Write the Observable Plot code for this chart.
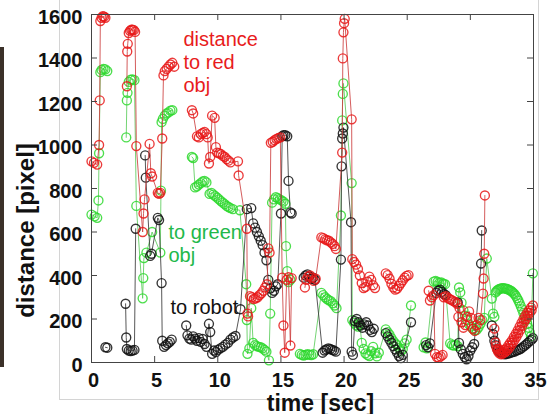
<!DOCTYPE html>
<html><head><meta charset="utf-8">
<script src="https://cdn.jsdelivr.net/npm/d3@7"></script>
<script src="https://cdn.jsdelivr.net/npm/@observablehq/plot@0.6"></script>
<style>
body{margin:0;background:#fff;}
#wrap{position:relative;width:547px;height:414px;overflow:hidden;background:#fff;}
.deco{position:absolute;}
#chart{position:absolute;left:0;top:0;}
</style></head><body>
<div id="wrap">
<div class="deco" style="left:0;top:47px;width:4px;height:320px;background:#3b3129"></div>
<div class="deco" style="left:59px;top:0;width:1px;height:400px;background:#d4d4d4"></div>
<div class="deco" style="left:59px;top:399px;width:480px;height:1px;background:#d4d4d4"></div>
<div class="deco" style="left:538px;top:0;width:1px;height:399px;background:#d4d4d4"></div>
<div id="chart"></div>
</div>
<script>
// time [sec], distance [pixel]
const red = [
[0.0,925],[0.2,918],[0.45,910],[0.6,1000],[0.65,1205],[0.7,1570],[0.8,1585],[0.9,1592],[1.0,1590],[1.1,1585],
[2.8,1270],[2.83,1430],[2.87,1465],[2.95,1515],[3.05,1525],[3.15,1530],[3.25,1530],[3.35,1528],[3.45,1520],[3.55,995],
[4.05,600],[4.12,685],[4.2,750],[4.6,1005],[4.7,870],[4.8,855],[5.25,780],[5.35,775],[5.45,780],[5.6,1030],[5.7,1320],[5.8,1340],[5.95,1350],[6.1,1360],[6.25,1370],[6.4,1378],[6.55,1360],
[7.95,1160],[8.05,1145],[8.35,1040],[8.5,1035],[8.65,1050],[8.8,1055],[8.95,1060],[9.1,1050],[9.2,1035],[9.3,915],[9.4,945],[9.55,1135],[9.75,1125],[9.85,990],[9.95,965],[10.1,962],[10.25,958],[10.4,950],[10.55,945],[10.7,935],[10.85,928],[11.0,920],[11.6,925],[11.65,860],
[12.3,615],[12.35,225],[12.4,212],[12.55,305],[12.7,300],[12.85,292],[13.0,295],[13.15,300],[13.3,310],[13.45,318],[13.6,330],[13.75,345],[13.9,360],[14.0,525],[14.1,505],[14.2,1010],[14.35,1015],[14.5,1022],[14.65,1028],[14.8,1032],[14.95,1035],[15.1,390],[15.2,170],[15.3,45],[15.45,380],[15.6,392],[15.75,78],[15.85,388],
[16.9,345],[17.0,380],[17.15,395],[17.3,400],[17.45,390],[17.6,375],[17.75,385],
[18.2,575],[18.35,572],[18.5,566],[18.65,562],[18.8,560],[18.95,552],[19.1,545],[19.25,535],[19.35,522],
[19.85,965],[19.9,1398],[19.95,1518],[20.0,1560],[20.05,1580],[20.6,1118],[20.65,475],[20.8,462],[20.95,450],[21.1,430],[21.25,400],[21.4,365],[21.55,342],[21.7,348],[21.85,372],[22.0,395],[22.15,380],[22.3,355],[22.45,342],
[23.3,410],[23.45,402],[23.6,385],[23.75,362],[23.9,345],[24.05,335],[24.2,340],[24.35,352],[24.5,365],[24.65,378],[24.8,390],[24.95,398],[25.1,402],
[26.7,330],[26.8,285],[26.95,300],[27.1,310],[27.2,40],[27.35,25],[27.5,22],[27.65,28],[27.8,35],[27.9,300],[28.05,305],[28.2,298],[28.35,292],[28.5,288],[28.65,282],[28.8,278],[28.95,270],[29.05,210],[29.15,250],[29.3,185],[29.45,160],[29.6,172],[29.75,210],[29.9,235],[30.05,205],[30.2,155],[30.35,145],[30.5,172],[30.65,205],[30.8,195],[31.0,317],[31.05,386],[31.1,500],[31.15,768],
[31.9,156],[32.0,92],[32.05,75],[32.1,62],[32.2,50],[32.25,62],[32.3,42],[32.4,52],[32.45,38],[32.55,50],[32.6,42],[32.7,58],[32.75,48],[32.85,65],[32.9,55],[33.0,78],[33.05,65],[33.15,90],[33.2,78],[33.3,102],[33.35,90],[33.45,118],[33.5,104],[33.6,132],[33.65,118],[33.75,148],[33.8,134],[33.9,165],[33.95,150],[34.05,182],[34.1,168],[34.2,198],[34.25,185],[34.35,214],[34.4,200],[34.5,228],[34.55,215],[34.65,240],[34.7,228],[34.8,252],[34.85,240],[34.95,262]
];
const green = [
[0.0,680],[0.25,672],[0.45,665],[0.55,745],[0.6,962],[0.7,1335],[0.8,1345],[0.95,1350],[1.1,1348],[1.25,1340],
[2.75,1035],[2.8,1205],[2.85,1240],[2.95,1290],[3.1,1300],[3.25,1302],[3.4,1298],[3.55,720],
[4.05,295],[4.1,388],[4.15,480],[4.35,505],[4.8,600],
[5.45,505],[5.5,790],[5.55,1105],[5.65,1120],[5.8,1135],[5.95,1145],[6.1,1150],[6.25,1158],[6.4,1160],
[7.95,945],[8.05,940],[8.2,805],[8.35,810],[8.5,818],[8.65,825],[8.8,832],[8.95,835],[9.1,828],[9.35,775],[9.5,780],[9.65,772],[9.8,765],[9.95,758],[10.1,750],[10.25,742],[10.4,735],[10.55,728],[10.7,720],[10.85,715],[11.0,710],[11.2,705],[11.75,700],
[12.25,360],[12.3,195],[12.35,40],[12.5,65],[12.65,250],[12.8,90],[12.95,80],[13.1,75],[13.25,72],[13.4,70],[13.55,65],[13.7,58],[13.85,50],[14.05,10],[14.15,225],[14.3,735],[14.45,750],[14.6,760],[14.75,755],[14.9,750],[15.05,745],[15.2,740],[15.35,730],[15.4,535],[15.5,420],[15.6,370],[15.75,380],
[16.5,40],[16.65,35],[16.8,32],[16.95,35],[17.1,38],[17.25,36],[17.4,34],[17.55,38],
[18.2,320],[18.35,310],[18.5,300],[18.65,292],[18.8,286],[18.95,282],[19.1,272],[19.25,262],[19.4,250],
[19.75,676],[19.85,1113],[19.9,1235],[19.95,1283],[20.6,825],[20.65,195],[20.8,182],[20.95,172],[21.1,165],[21.25,178],[21.4,90],[21.55,62],[21.7,42],[21.85,35],[22.0,30],[22.15,52],[22.3,72],[22.45,42],[22.6,28],[22.75,45],
[23.3,152],[23.45,140],[23.6,128],[23.75,112],[23.9,98],[24.05,88],[24.2,80],[24.35,66],[24.5,52],[24.65,62],[24.8,88],[24.95,105],[25.3,262],
[26.3,70],[26.45,92],[26.55,65],[27.1,372],[27.25,375],[27.4,370],[27.55,366],[27.7,368],[27.85,362],[28.0,360],[28.4,88],[28.55,80],[28.7,78],[28.85,82],[29.0,75],[29.1,345],[29.2,322],[29.3,275],[29.45,240],[29.6,215],[29.75,195],[29.9,175],[30.05,165],[30.2,155],[30.35,148],[30.5,150],[30.65,162],[30.8,178],[30.95,195],[31.1,205],[31.3,478],[31.7,294],[31.8,225],[31.9,210],
[32.0,322],[32.1,330],[32.2,335],[32.3,338],[32.4,340],[32.5,342],[32.6,342],[32.7,341],[32.8,340],[32.9,338],[33.0,336],[33.1,333],[33.2,330],[33.3,326],[33.4,320],[33.5,314],[33.6,306],[33.7,296],[33.8,285],[33.9,272],[34.0,258],[34.1,244],[34.2,228],[34.3,212],[34.4,196],[34.5,178],[34.6,160],[34.7,140],[34.8,120],[34.95,410]
];
const black = [
[1.1,70],[1.25,68],
[2.7,270],[2.75,115],[2.8,62],[2.95,55],[3.1,52],[3.25,55],[3.4,58],[3.5,615],
[4.25,952],[4.3,850],[4.65,490],[4.75,500],[5.25,665],[5.35,655],[5.55,365],[5.6,100],[5.75,72],[5.9,80],[6.05,88],[6.2,95],[6.35,105],
[7.5,170],[7.6,125],[7.75,110],[7.9,105],[8.05,120],[8.2,110],[8.35,100],[8.5,112],[8.65,95],[8.8,108],[8.95,85],[9.1,72],[9.3,178],[9.4,140],[9.55,40],[9.7,55],[9.85,48],[10.0,58],[10.2,65],[10.4,72],[10.6,82],[10.8,90],[11.0,105],[11.2,115],[11.4,122],
[11.8,245],[12.3,705],[12.65,710],[12.8,640],[12.95,620],[13.1,600],[13.25,580],[13.4,560],[13.55,540],[13.7,505],[13.85,470],[14.0,380],[14.15,340],[14.3,320],[14.45,330],[14.6,350],[14.75,360],[15.0,685],[15.1,1040],[15.2,1045],[15.35,1045],[15.5,1040],[15.6,835],[15.75,690],[15.85,685],
[16.8,390],[16.95,400],[17.1,405],[17.25,395],[17.4,385],[17.55,390],[17.7,380],
[18.3,45],[18.45,55],[18.6,60],[18.75,65],[18.9,62],[19.05,58],[19.2,55],[19.35,50],
[19.75,473],[19.8,902],[19.85,1030],[19.9,1053],[19.95,1080],[20.55,645],[20.6,50],[20.7,35],[20.85,190],[21.0,200],[21.15,185],[21.3,170],[21.45,160],[21.6,175],[21.75,185],[21.9,170],[22.05,150],[22.2,140],[22.35,155],
[23.3,135],[23.45,120],[23.6,105],[23.75,90],[23.9,75],[24.05,60],[24.2,45],[24.35,30],[24.5,20],[24.65,35],[25.3,185],
[26.5,80],[26.65,70],[26.8,88],[27.3,320],[27.45,330],[27.6,335],[27.75,325],[27.9,315],[28.05,310],
[29.0,276],[29.1,90],[29.25,60],[29.4,40],[29.55,25],[29.7,15],[29.85,30],[30.0,55],[30.15,70],[30.3,85],[30.85,455],[30.9,607],
[31.7,170],[31.8,130],[31.9,100],[32.0,80],[32.15,60],[32.3,50],[32.45,45],[32.6,40],[32.75,38],[32.9,40],[33.05,42],[33.2,45],[33.35,48],[33.5,50],[33.65,55],[33.8,58],[33.95,62],[34.1,68],[34.25,75],[34.4,82],[34.55,90],[34.7,98],[34.85,105],[34.95,112]
];
const xTicks = [0,5,10,15,20,25,30,35];
const yTicks = [0,200,400,600,800,1000,1200,1400,1600];
const xTitle = "time [sec]";
const yTitle = "distance [pixel]";
const notes = ["distance\nto red\nobj", "to green\nobj", "to robot"];

function rows(arr) {
  let seg = 0;
  return arr.map((d, i) => {
    if (i > 0 && d[0] - arr[i - 1][0] > 0.7) seg++;
    return {t: d[0], v: d[1], s: seg};
  });
}
const series = [
  {data: rows(green), dot: "#2ed82e", line: "#5ccc5c"},
  {data: rows(black), dot: "#111111", line: "#3a3a3a"},
  {data: rows(red), dot: "#e81818", line: "#cc4040"}
];
const marks = [];
for (const s of series) {
  marks.push(Plot.line(s.data, {x: "t", y: "v", z: "s", stroke: s.line, strokeWidth: 1, strokeOpacity: 0.85}));
  marks.push(Plot.dot(s.data, {x: "t", y: "v", r: 4.5, stroke: s.dot, strokeWidth: 1.35, fill: "none", strokeOpacity: 0.85}));
}
marks.push(Plot.frame({stroke: "#444"}));
marks.push(Plot.tickX(xTicks, {x: d => d, insetTop: 342, stroke: "#444"}));
marks.push(Plot.tickX(xTicks, {x: d => d, insetBottom: 342, stroke: "#444"}));
marks.push(Plot.tickY(yTicks, {y: d => d, insetRight: 436, stroke: "#444"}));
marks.push(Plot.tickY(yTicks, {y: d => d, insetLeft: 436, stroke: "#444"}));
const hasAxis = typeof Plot.axisX === "function";
if (hasAxis) {
  marks.push(Plot.axisX({ticks: xTicks, tickSize: 0, tickPadding: 10, dx: 2, fontSize: 20, fontWeight: "bold", label: null, tickFormat: d => `${d}`, fill: "#111"}));
  marks.push(Plot.axisY({ticks: yTicks, tickSize: 0, tickPadding: 9, dy: 3, fontSize: 20, fontWeight: "bold", label: null, tickFormat: d => `${d}`, fill: "#111"}));
}
marks.push(Plot.text([yTitle], {frameAnchor: "left", text: d => d, rotate: -90, dx: -58, dy: 42, fontSize: 24, fontWeight: "bold", textAnchor: "middle", lineAnchor: "bottom", fill: "#111"}));
marks.push(Plot.text([xTitle], {frameAnchor: "bottom", text: d => d, dx: 8, dy: 48, fontSize: 23, fontWeight: "bold", textAnchor: "middle", lineAnchor: "bottom", fill: "#111"}));
marks.push(Plot.text([notes[0]], {frameAnchor: "top-left", text: d => d, dx: 92, dy: 15, textAnchor: "start", lineAnchor: "top", lineHeight: 1.15, fontSize: 20, fontWeight: "normal", fill: "#e81c1c"}));
marks.push(Plot.text([notes[1]], {frameAnchor: "top-left", text: d => d, dx: 77, dy: 208, textAnchor: "start", lineAnchor: "top", lineHeight: 1.15, fontSize: 20, fontWeight: "normal", fill: "#22b84a"}));
marks.push(Plot.text([notes[2]], {frameAnchor: "top-left", text: d => d, dx: 79, dy: 285, textAnchor: "start", lineAnchor: "top", fontSize: 20, fontWeight: "normal", fill: "#111"}));

const plot = Plot.plot({
  width: 547, height: 414,
  marginLeft: 91, marginRight: 14, marginTop: 14, marginBottom: 52,
  style: {fontFamily: "'Liberation Sans', Arial, Helvetica, sans-serif", background: "transparent", fontSize: "20px", fontWeight: "bold", color: "#111"},
  x: hasAxis ? {domain: [0, 35], axis: null} : {domain: [0, 35], ticks: xTicks, tickSize: 0, tickPadding: 10, label: null, tickFormat: d => `${d}`},
  y: hasAxis ? {domain: [0, 1600], axis: null} : {domain: [0, 1600], ticks: yTicks, tickSize: 0, tickPadding: 9, label: null, tickFormat: d => `${d}`},
  marks
});
document.getElementById("chart").appendChild(plot);
</script>
</body></html>
